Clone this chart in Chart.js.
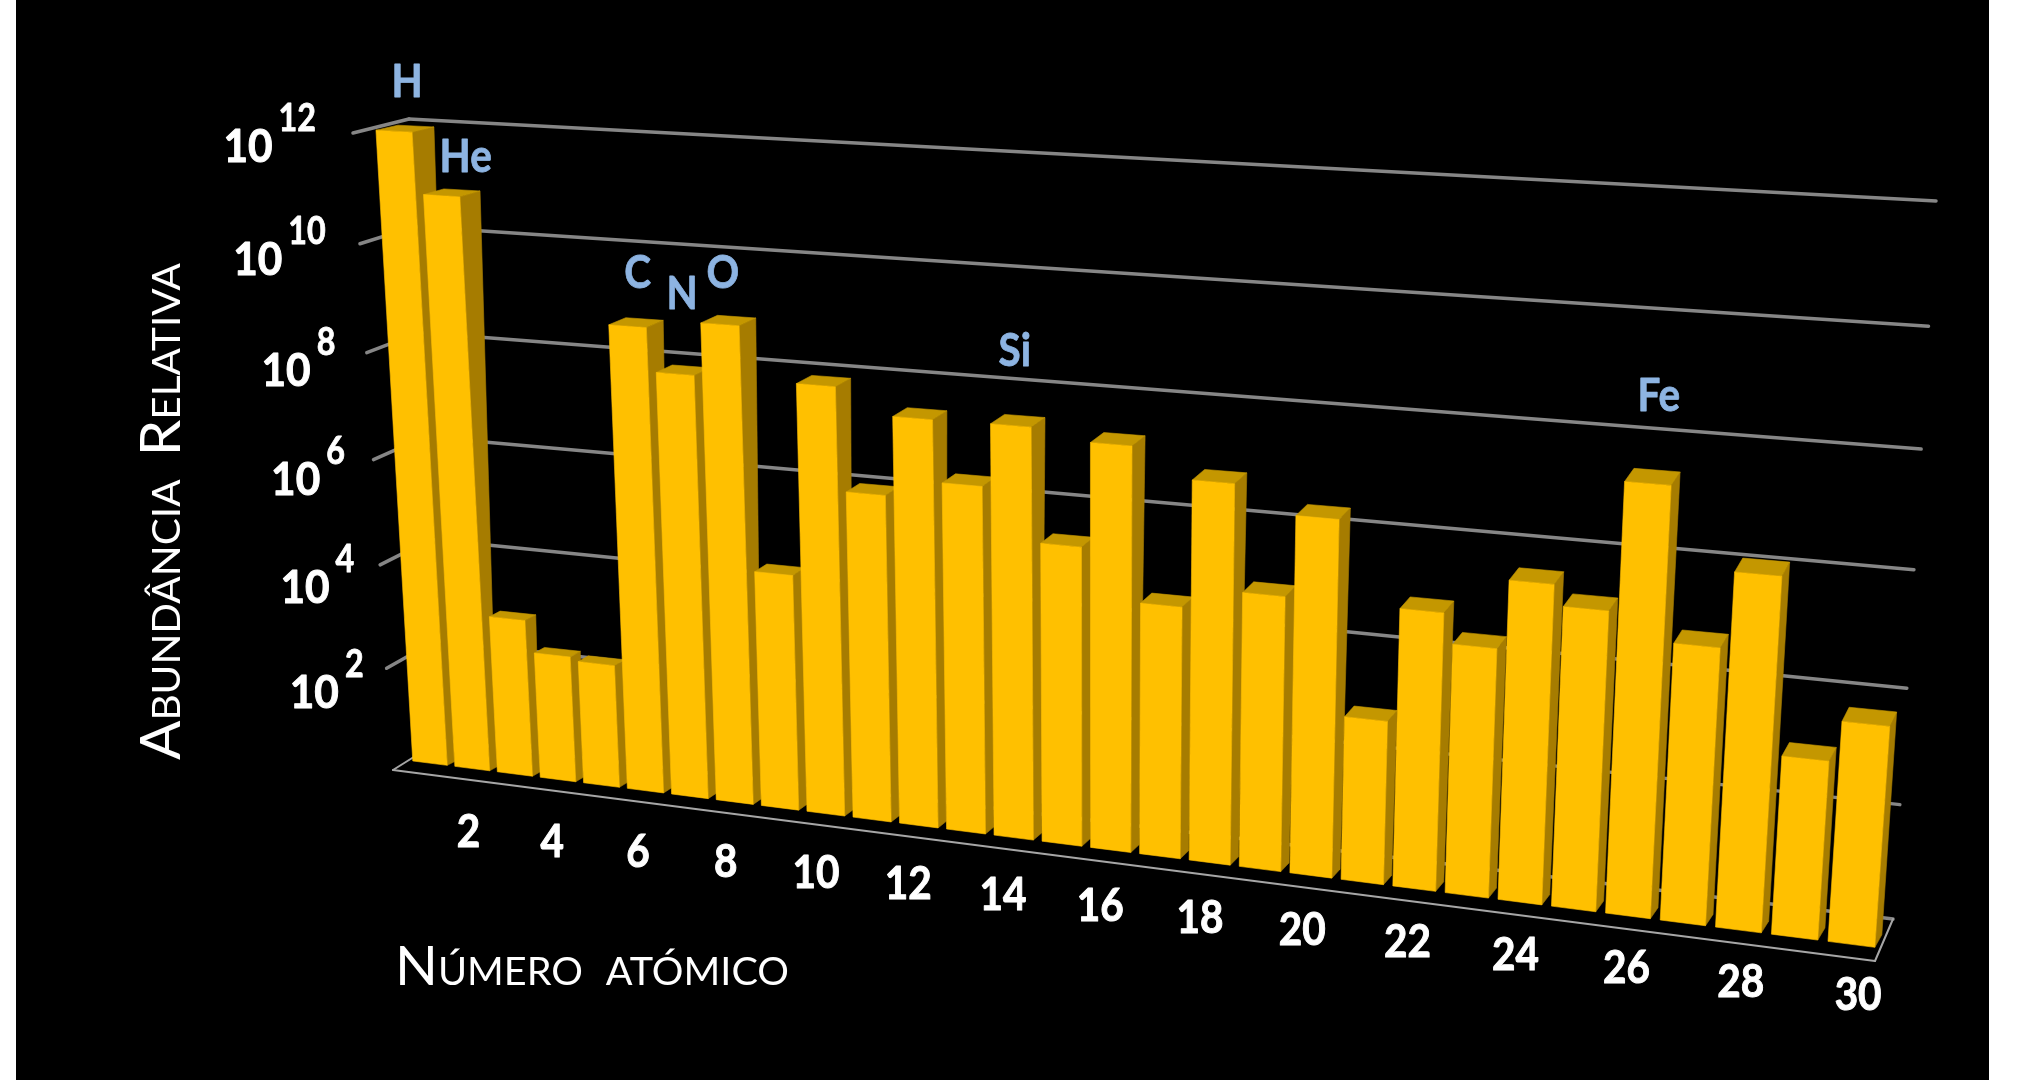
<!DOCTYPE html>
<html>
<head>
<meta charset="utf-8">
<title>Abundância Relativa</title>
<script src="https://cdn.jsdelivr.net/npm/chart.js@4/dist/chart.umd.min.js"></script>
<style>
  html, body { margin: 0; background: #fff; overflow: hidden; }
  canvas { display: block; }
</style>
</head>
<body>
<canvas id="myChart" width="2031" height="1080"></canvas>
<script>
var atomicNumbers = [1, 2, 3, 4, 5, 6, 7, 8, 9, 10, 11, 12, 13, 14, 15, 16, 17, 18, 19, 20, 21, 22, 23, 24, 25, 26, 27, 28, 29, 30];
var abundance = [1e12, 7.6e10, 1.1e3, 2.7e2, 2.3e2, 5.5e8, 8.7e7, 7.9e8, 2.7e4, 8.7e7,
  1.15e6, 3.1e7, 2.4e6, 3.2e7, 2.9e5, 2.1e7, 3.7e4, 6.6e6, 8.6e4, 2.3e6,
  8.5e2, 8.4e4, 2.5e4, 3.9e5, 1.7e5, 2.6e7, 6.2e4, 1.2e6, 1.2e3, 5.9e3];
var xTickLabels = ['2', '4', '6', '8', '10', '12', '14', '16', '18', '20', '22', '24', '26', '28', '30'];
var yTickExponents = [2, 4, 6, 8, 10, 12];
var elementSymbols = { 1: 'H', 2: 'He', 6: 'C', 7: 'N', 8: 'O', 14: 'Si', 26: 'Fe' };

// offset of each symbol from the top of its bar
var symbolOffsets = { 1: [13, -49], 2: [24, -39], 6: [10, -53], 7: [7, -80], 8: [3, -51], 14: [4, -74], 26: [11, -87] };

// perspective planes, corners in order bottom left, bottom right, top right, top left
var wallPlane = [[441, 740], [1893, 919], [1936, 201], [409, 119]];
var edgePlane = [[393, 770], [1875, 961], [1918, 242], [353, 133]];
var barFront = [[409, 760.5], [1880, 948], [1930, 214], [372, 130]];
var barBack = [[416, 757], [1887, 935.5], [1936, 201], [394, 125]];
var xLabelPlane = [[407, 825], [1888, 999], [1888, 877.5], [407, 725]];

function quadMap(q) {
  var dx1 = q[1][0] - q[2][0], dx2 = q[3][0] - q[2][0], sx = q[0][0] - q[1][0] + q[2][0] - q[3][0];
  var dy1 = q[1][1] - q[2][1], dy2 = q[3][1] - q[2][1], sy = q[0][1] - q[1][1] + q[2][1] - q[3][1];
  var den = dx1 * dy2 - dx2 * dy1;
  var g = (sx * dy2 - dx2 * sy) / den, h = (dx1 * sy - sx * dy1) / den;
  var a = q[1][0] - q[0][0] + g * q[1][0], b = q[3][0] - q[0][0] + h * q[3][0];
  var d = q[1][1] - q[0][1] + g * q[1][1], e = q[3][1] - q[0][1] + h * q[3][1];
  return function (u, v) {
    var w = g * u + h * v + 1;
    return [(a * u + b * v + q[0][0]) / w, (d * u + e * v + q[0][1]) / w];
  };
}
var toWall = quadMap(wallPlane), toEdge = quadMap(edgePlane), toFront = quadMap(barFront), toBack = quadMap(barBack);
var toXLabel = quadMap(xLabelPlane);

function poly(ctx, pts, color) {
  ctx.beginPath();
  pts.forEach(function (p, i) { i ? ctx.lineTo(p[0], p[1]) : ctx.moveTo(p[0], p[1]); });
  ctx.closePath();
  ctx.fillStyle = color;
  ctx.strokeStyle = color;
  ctx.lineWidth = 0.6;
  ctx.fill();
  ctx.stroke();
}

function line(ctx, a, b, color, width) {
  ctx.beginPath();
  ctx.moveTo(a[0], a[1]);
  ctx.lineTo(b[0], b[1]);
  ctx.strokeStyle = color;
  ctx.lineWidth = width;
  ctx.stroke();
}

// squeezes or stretches the text to the width it has in the picture
function fitText(ctx, text, x, y, width) {
  var m = ctx.measureText(text).width;
  narrowText(ctx, text, x, y, width / m);
}

function narrowText(ctx, text, x, y, sx, heavy) {
  ctx.save();
  ctx.translate(x, y);
  ctx.scale(sx, 1);
  if (heavy) {
    ctx.strokeStyle = ctx.fillStyle;
    ctx.lineWidth = heavy;
    ctx.lineJoin = 'round';
    ctx.strokeText(text, 0, 0);
  }
  ctx.fillText(text, 0, 0);
  ctx.restore();
}

var perspective3d = {
  id: 'perspective3d',
  beforeDatasetsDraw: function (chart) {
    var ctx = chart.ctx, area = chart.chartArea, yScale = chart.scales.y;
    ctx.save();
    ctx.fillStyle = '#000';
    ctx.fillRect(16, 0, 1973, 1080);
    ctx.lineCap = 'round';

    function vOf(val) { return (area.bottom - yScale.getPixelForValue(val)) / area.height; }

    // wall lines
    [0].concat(yTickExponents).forEach(function (e) {
      var v = vOf(Math.pow(10, e));
      if (e > 0) line(ctx, toEdge(0, v), toWall(0, v), '#868686', 3.5);
      line(ctx, toWall(0, v), toWall(1, v), '#868686', 3.5);
    });
    // floor
    line(ctx, toEdge(0, 0), toWall(0, 0), '#a6a6a6', 2);
    line(ctx, toEdge(0, 0), toEdge(1, 0), '#a6a6a6', 2);
    line(ctx, toEdge(1, 0), toWall(1, 0), '#a6a6a6', 2);
    ctx.restore();
  },
  beforeDatasetDraw: function (chart, args) {
    var ctx = chart.ctx, area = chart.chartArea;
    function U(px) { return (px - area.left) / area.width; }
    function V(py) { return (area.bottom - py) / area.height; }
    ctx.save();
    args.meta.data.forEach(function (bar) {
      var u0 = U(bar.x - bar.width / 2), u1 = U(bar.x + bar.width / 2);
      var v0 = V(bar.base), v1 = V(bar.y);
      poly(ctx, [toFront(u1, v0), toFront(u1, v1), toBack(u1, v1), toBack(u1, v0)], '#a67c00');
      poly(ctx, [toFront(u0, v1), toFront(u1, v1), toBack(u1, v1), toBack(u0, v1)], '#c49700');
      poly(ctx, [toFront(u0, v0), toFront(u1, v0), toFront(u1, v1), toFront(u0, v1)], '#ffc000');
    });
    ctx.restore();
    return false;
  },
  afterDatasetsDraw: function (chart) {
    var ctx = chart.ctx, area = chart.chartArea, xScale = chart.scales.x, yScale = chart.scales.y;
    var meta = chart.getDatasetMeta(0);
    function U(px) { return (px - area.left) / area.width; }
    function V(py) { return (area.bottom - py) / area.height; }
    ctx.save();
    ctx.fillStyle = '#fff';
    ctx.textBaseline = 'alphabetic';

    // y tick labels
    yTickExponents.forEach(function (e) {
      var tick = toEdge(0, V(yScale.getPixelForValue(Math.pow(10, e))));
      var right = tick[0] - 40 + 1.4 * (12 - e);
      var base = tick[1] + 29 + 1.1 * (12 - e);
      ctx.font = 'bold 38px Lato';
      var ew = ctx.measureText(String(e)).width * 0.85;
      ctx.textAlign = 'right';
      narrowText(ctx, String(e), right + 3, base - 31, 0.85, 0.8);
      ctx.font = 'bold 46px Lato';
      narrowText(ctx, '10', right - ew - 3, base, 0.92, 1);
    });

    // x tick labels
    ctx.font = 'bold 46px Lato';
    ctx.textAlign = 'center';
    ctx.textBaseline = 'middle';
    xTickLabels.forEach(function (label) {
      var px = xScale.getPixelForValue(atomicNumbers.indexOf(Number(label)));
      var p = toXLabel(U(px), 0);
      narrowText(ctx, label, p[0], p[1], 0.88, 1);
    });

    // element symbols
    ctx.fillStyle = '#8db4e2';
    atomicNumbers.forEach(function (z, i) {
      if (!elementSymbols[z]) return;
      var bar = meta.data[i];
      var p = toFront(U(bar.x), V(bar.y));
      narrowText(ctx, elementSymbols[z], p[0] + symbolOffsets[z][0], p[1] + symbolOffsets[z][1], 0.88, 0.8);
    });

    // axis titles
    ctx.fillStyle = '#fff';
    ctx.textAlign = 'left';
    ctx.textBaseline = 'alphabetic';
    ctx.wordSpacing = '8px';
    ctx.font = 'small-caps 54px Lato';
    fitText(ctx, 'Número atómico', 395, 985, 394);
    ctx.font = 'small-caps 56px Lato';
    ctx.translate(180, 760);
    ctx.rotate(-Math.PI / 2);
    fitText(ctx, 'Abundância Relativa', 0, 0, 497);
    ctx.restore();
  }
};

var ctx = document.getElementById('myChart');
var myChart = new Chart(ctx, {
  type: 'bar',
  data: {
    labels: atomicNumbers,
    datasets: [{
      label: 'Abundância Relativa',
      data: abundance,
      backgroundColor: '#ffc000',
      barPercentage: 0.82,
      categoryPercentage: 1
    }]
  },
  options: {
    responsive: false,
    animation: false,
    devicePixelRatio: 1,
    layout: { padding: 0 },
    plugins: { legend: { display: false }, tooltip: { enabled: false } },
    scales: {
      x: { display: false },
      y: { display: false, type: 'logarithmic', min: 1, max: 1e12 }
    }
  },
  plugins: [perspective3d]
});
</script>
</body>
</html>
